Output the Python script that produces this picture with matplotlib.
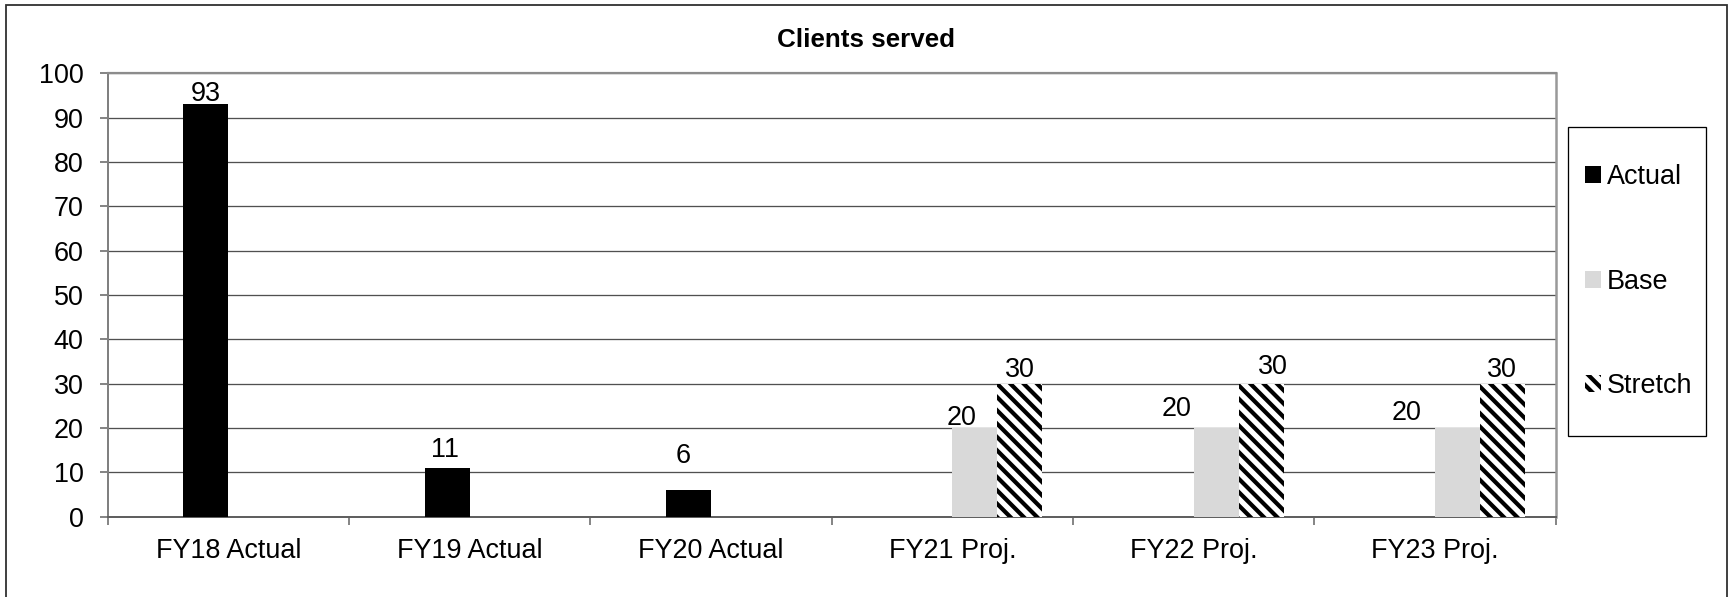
import numpy as np
import matplotlib.pyplot as plt
from matplotlib.patches import Rectangle

DPI = 80


def px(n):
    # pixels -> points at this dpi
    return n * 72 / DPI


categories = ['FY18 Actual', 'FY19 Actual', 'FY20 Actual', 'FY21 Proj.', 'FY22 Proj.', 'FY23 Proj.']
actual = [93, 11, 6, np.nan, np.nan, np.nan]
base = [np.nan, np.nan, np.nan, 20, 20, 20]
stretch = [np.nan, np.nan, np.nan, 30, 30, 30]

# hand-placed label nudges (pixels) as in the original chart
actual_nudge = [(0, 3), (-2, 11), (-5, 27)]
base_nudge = [(-13, 3), (-40, 12), (-51, 8)]
stretch_nudge = [(0, 7), (12, 10), (-1, 7)]

plt.rcParams['font.family'] = ['Liberation Sans', 'DejaVu Sans']
plt.rcParams['hatch.linewidth'] = px(4.2)
plt.rcParams['hatch.color'] = 'black'

fig = plt.figure(figsize=(1728 / DPI, 597 / DPI), dpi=DPI)
ax = fig.add_axes([107.7 / 1728, 1 - 516.7 / 597, 1448 / 1728, 443.4 / 597])

x = np.arange(len(categories))
w = 45 / 241.3

b1 = ax.bar(x - w / 2, actual, w, color='black', label='Actual', zorder=3)
b2 = ax.bar(x + w / 2, base, w, color='#d9d9d9', label='Base', zorder=3)
b3 = ax.bar(x + 1.5 * w, stretch, w, color='white', hatch='\\\\', edgecolor='black',
            linewidth=0, label='Stretch', zorder=3)

fs = px(27)


def add_labels(bars, values, nudges):
    k = 0
    for bar, v in zip(bars, values):
        if np.isnan(v):
            continue
        dx, dy = nudges[k]
        k += 1
        ax.annotate(f'{v:g}', (bar.get_x() + bar.get_width() / 2, v),
                    xytext=(px(dx), px(dy)), textcoords='offset points',
                    ha='center', va='baseline', fontsize=fs, zorder=5)


add_labels(b1, actual, actual_nudge)
add_labels(b2, base, base_nudge)
add_labels(b3, stretch, stretch_nudge)

ax.set_xlim(-0.5, len(categories) - 0.5)
ax.set_ylim(0, 100)
ax.set_yticks(range(0, 101, 10))
ax.yaxis.grid(True, color='#505050', linewidth=px(1.3), zorder=0)
ax.set_axisbelow(True)

ax.set_xticks(np.arange(-0.5, len(categories), 1))
ax.set_xticklabels([])
ax.set_xticks(x, minor=True)
ax.set_xticklabels(categories, minor=True)
ax.tick_params(axis='x', which='major', length=px(8), width=px(1.5), color='#606060', direction='out')
ax.tick_params(axis='x', which='minor', length=0, pad=px(21), labelsize=fs)
ax.tick_params(axis='y', length=px(8), width=px(1.5), color='#606060', pad=px(16), labelsize=fs)

ax.spines['top'].set_color('#8c8c8c')
ax.spines['top'].set_linewidth(px(2.2))
ax.spines['left'].set_color('#808080')
ax.spines['left'].set_linewidth(px(2))
ax.spines['bottom'].set_color('#606060')
ax.spines['bottom'].set_linewidth(px(2))
ax.spines['right'].set_color('#999999')
ax.spines['right'].set_linewidth(px(2.5))

fig.text(866 / 1728, 1 - 46.7 / 597, 'Clients served', ha='center', va='baseline',
         fontsize=px(26), fontweight='bold')

# legend entries without frame; the box is drawn separately
leg = fig.legend(handles=[b1, b2, b3], loc='center left',
                 bbox_to_anchor=(1585 / 1728, 1 - 281.7 / 597), fontsize=fs,
                 frameon=False, handlelength=0.6, handleheight=0.6, handletextpad=0.22,
                 labelspacing=2.9, borderpad=0, borderaxespad=0)

fig.patches.append(Rectangle((1567.7 / 1728, 1 - 436 / 597), 138.6 / 1728, 309.3 / 597,
                             transform=fig.transFigure, fill=False,
                             edgecolor='black', linewidth=px(1.3)))

# outer chart border, runs off the bottom of the picture
fig.patches.append(Rectangle((6 / 1728, -0.05), 1721 / 1728, 1.05 - 5 / 597,
                             transform=fig.transFigure, fill=False,
                             edgecolor='#303030', linewidth=px(1.8)))

fig.savefig('out.png', dpi=DPI, facecolor='white')
